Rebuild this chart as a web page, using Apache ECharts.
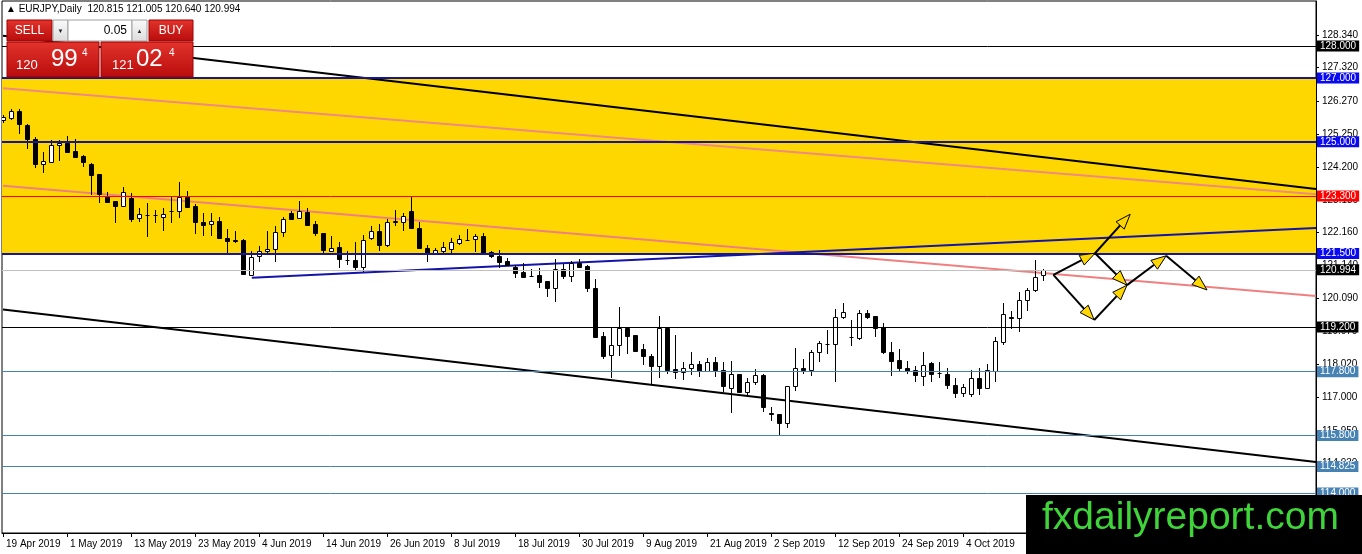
<!DOCTYPE html>
<html>
<head>
<meta charset="utf-8">
<title>EURJPY Daily</title>
<script src="https://cdn.jsdelivr.net/npm/echarts@6.0.0/dist/echarts.min.js"></script>
<style>
    html, body { margin: 0; padding: 0; background: #fff; }
    #chart { width: 1362px; height: 554px; }
</style>
</head>
<body>
<div id="chart"></div>
<script>
// daily candles, index 0 = 19 Apr 2019, one slot per weekday
var opens  = [125.68,125.75,125.96,125.53,125.08,124.30,124.38,124.90,124.97,124.71,124.56,124.30,123.98,123.31,123.15,123.00,123.25,122.60,122.71,122.70,
              122.66,122.83,122.83,123.28,123.00,122.50,122.42,122.52,122.00,121.91,121.92,120.83,121.42,121.58,121.64,122.19,122.76,122.60,122.79,122.42,
              122.13,121.58,121.71,121.31,121.30,121.09,121.98,122.22,121.77,122.50,122.50,122.84,122.29,121.66,121.53,121.59,121.63,121.84,121.93,121.95,
              122.05,121.56,121.42,121.28,121.09,120.93,120.81,120.83,120.64,120.43,121.02,120.81,121.19,121.12,120.41,118.93,118.32,118.64,119.16,118.95,
              118.51,118.30,117.99,119.18,117.88,117.80,117.91,118.03,117.82,118.09,117.85,117.30,117.72,117.17,117.47,117.70,116.50,116.47,116.18,117.35,
              117.93,117.85,118.41,118.67,118.66,119.52,118.90,118.85,119.63,119.55,119.21,118.43,118.17,117.91,117.85,117.67,118.06,117.76,117.73,117.38,
              117.12,117.10,117.60,117.28,117.82,118.74,119.50,119.47,120.05,120.36,120.815];
var highs  = [125.85,126.03,126.03,125.55,125.16,124.67,125.06,125.06,125.18,125.08,124.59,124.33,123.98,123.44,123.15,123.59,123.39,122.94,123.07,122.87,
              122.94,123.28,123.73,123.46,123.04,122.76,122.76,122.65,122.27,122.21,121.95,121.58,121.74,122.21,122.36,122.65,122.83,123.15,122.94,122.52,
              122.13,122.06,121.87,121.58,121.87,122.08,122.36,122.43,122.57,122.86,122.78,123.30,122.50,121.77,121.66,121.87,121.98,122.08,122.26,122.11,
              122.15,121.59,121.61,121.37,121.14,121.21,121.02,121.04,120.64,121.33,121.16,121.26,121.33,121.14,120.70,119.03,119.16,119.84,119.21,118.95,
              118.66,118.34,119.55,119.21,118.95,118.09,118.41,118.13,118.24,118.27,118.11,118.13,117.72,117.59,117.88,117.72,116.70,116.47,117.35,118.55,
              118.20,118.47,118.75,119.11,119.76,119.94,119.42,119.73,119.73,119.55,119.31,118.72,118.51,118.13,117.99,118.41,118.11,118.09,117.93,117.59,
              117.41,117.85,117.93,118.03,118.90,119.94,119.70,120.29,120.43,121.30,121.005];
var lows   = [125.60,125.68,125.23,124.76,124.17,124.03,124.38,124.40,124.67,124.52,124.22,123.33,123.07,123.07,122.45,122.97,122.50,122.50,122.03,122.47,
              122.21,122.47,122.62,122.92,122.10,122.06,122.06,121.98,121.51,121.82,120.85,120.83,121.25,121.51,121.22,122.03,122.58,122.58,122.39,122.06,
              121.51,121.54,121.04,121.14,121.00,120.93,121.92,121.59,121.70,122.36,122.22,122.29,121.66,121.25,121.53,121.51,121.51,121.77,121.90,121.56,
              121.51,121.35,121.04,121.10,120.72,120.75,120.75,120.43,120.15,119.99,120.70,120.62,121.09,120.29,118.90,118.20,117.61,118.30,118.34,118.43,
              118.01,117.40,117.61,117.72,117.57,117.54,117.70,117.63,117.78,117.64,117.15,116.50,117.12,117.07,117.38,116.55,116.26,115.80,116.05,117.19,
              117.72,117.65,118.09,118.34,117.49,119.45,118.61,118.80,119.45,118.90,118.34,117.67,117.80,117.72,117.47,117.36,117.47,117.61,117.25,116.99,
              117.02,117.02,117.07,117.25,117.49,118.64,119.14,119.05,119.70,120.29,120.640];
var closes = [125.77,125.96,125.55,125.08,124.30,124.40,124.90,124.97,124.67,124.52,124.38,123.96,123.36,123.12,123.00,123.42,122.58,122.73,122.70,122.71,
              122.74,122.84,123.28,122.97,122.48,122.39,122.52,121.98,121.90,121.90,120.85,121.40,121.58,121.64,122.17,122.58,122.58,122.83,122.39,122.13,
              121.61,121.68,121.33,121.30,121.09,121.92,122.22,121.77,122.50,122.51,122.68,122.29,121.66,121.53,121.61,121.71,121.87,121.95,121.92,122.05,
              121.53,121.42,121.25,121.14,120.90,120.78,120.80,120.62,120.43,121.02,120.81,121.19,121.09,120.41,118.90,118.30,118.64,119.16,118.93,118.45,
              118.30,117.99,119.16,117.85,117.80,117.91,118.03,117.82,118.09,117.85,117.36,117.72,117.16,117.47,117.70,116.70,116.49,116.18,117.35,117.91,
              117.85,118.41,118.69,118.66,119.52,119.66,118.89,119.63,119.52,119.16,118.43,118.14,117.91,117.82,117.70,118.01,117.72,117.75,117.38,117.12,
              117.33,117.60,117.30,117.85,118.76,119.60,119.49,120.05,120.36,120.77,120.994];

// date ticks, one every 8 slots
var dateLabels = ['19 Apr 2019','1 May 2019','13 May 2019','23 May 2019','4 Jun 2019','14 Jun 2019','26 Jun 2019','8 Jul 2019',
                  '18 Jul 2019','30 Jul 2019','9 Aug 2019','21 Aug 2019','2 Sep 2019','12 Sep 2019','24 Sep 2019','4 Oct 2019'];
var priceTicks = [128.34,127.32,126.27,125.25,124.20,123.18,122.16,121.14,120.09,119.07,118.02,117.00,115.95,114.93,113.91];

// horizontal levels drawn on the chart
var levels     = [128, 127, 125, 123.3, 121.5, 120.994, 119.2, 117.8, 115.8, 114.825, 114];
var levelKinds = ['black','blue','blue','red','blue','bid','black','steel','steel','steel','steel'];
var zoneTop = 127, zoneBottom = 121.5;

// trend lines [slot, price]
var channelTop    = [[0, 128.32], [164.125, 123.52]];
var channelBottom = [[0, 119.75], [164.125, 114.97]];
var pinkUpper     = [[0, 126.68], [164.125, 123.36]];
var pinkLower     = [[0, 123.62], [164.125, 120.17]];
var blueSupport   = [[31.1, 120.74], [164.125, 122.30]];

// scenario arrows [fromSlot, fromPrice, toSlot, toPrice]
var arrows = [
    [131.3, 120.83, 136.5, 121.51],
    [136.5, 121.51, 140.9, 122.73],
    [136.5, 121.51, 140.5, 120.51],
    [140.5, 120.51, 145.4, 121.43],
    [145.4, 121.43, 150.5, 120.36],
    [131.3, 120.83, 136.4, 119.42],
    [136.4, 119.42, 140.5, 120.51]
];

var FONT = '"Liberation Sans", "DejaVu Sans", sans-serif';

var dom = document.getElementById('chart');
var myChart = echarts.init(dom, null, {renderer: 'canvas'});

var kindStyle = {
    black: {line: '#000000', width: 1, box: '#000000'},
    blue:  {line: '#16169a', width: 2, box: '#0a0af0'},
    red:   {line: '#ff0000', width: 1, box: '#ff0000'},
    bid:   {line: '#c0c0c0', width: 1, box: '#000000'},
    steel: {line: '#4682b4', width: 1, box: '#4682b4'}
};

var levelData = levels.map(function (v, i) {
    var s = kindStyle[levelKinds[i]];
    return {
        name: v.toFixed(3),
        yAxis: v,
        lineStyle: {color: s.line, width: s.width, type: 'solid'},
        label: {backgroundColor: s.box}
    };
});

var candleData = opens.map(function (o, i) {
    return [i, o, closes[i], lows[i], highs[i]];
});

var tickSlots = dateLabels.map(function (d, i) { return i * 8; });

function renderCandle(params, api) {
    var i = api.value(0), o = api.value(1), c = api.value(2), l = api.value(3), h = api.value(4);
    var pO = api.coord([i, o]), pC = api.coord([i, c]);
    var pL = api.coord([i, l]), pH = api.coord([i, h]);
    var cx = Math.round(pO[0]) + 0.5;
    var half = Math.round(api.size([1, 0])[0] * 0.3);
    var yTop = Math.round(Math.min(pO[1], pC[1]));
    var yBot = Math.round(Math.max(pO[1], pC[1]));
    var kids = [{
        type: 'line',
        shape: {x1: cx, y1: Math.round(pH[1]), x2: cx, y2: Math.round(pL[1])},
        style: {stroke: '#000', lineWidth: 1}
    }];
    if (yBot - yTop < 1) {
        kids.push({type: 'line', shape: {x1: cx - half, y1: yTop + 0.5, x2: cx + half, y2: yTop + 0.5},
            style: {stroke: '#000', lineWidth: 1}});
    } else {
        kids.push({type: 'rect', shape: {x: cx - half, y: yTop + 0.5, width: half * 2, height: yBot - yTop},
            style: {fill: c >= o ? '#fff' : '#000', stroke: '#000', lineWidth: 1}});
    }
    return {type: 'group', children: kids};
}

function renderArrow(params, api) {
    var p1 = api.coord([api.value(0), api.value(1)]);
    var p2 = api.coord([api.value(2), api.value(3)]);
    var dx = p2[0] - p1[0], dy = p2[1] - p1[1];
    var len = Math.sqrt(dx * dx + dy * dy);
    var ux = dx / len, uy = dy / len;
    var hl = 15, hw = 5.5;
    var bx = p2[0] - ux * hl, by = p2[1] - uy * hl;
    return {
        type: 'group',
        children: [
            {type: 'line', shape: {x1: p1[0], y1: p1[1], x2: bx, y2: by}, style: {stroke: '#000', lineWidth: 2}},
            {type: 'polygon', shape: {points: [[p2[0], p2[1]], [bx - uy * hw, by + ux * hw], [bx + uy * hw, by - ux * hw]]},
                style: {fill: '#ffd700', stroke: '#000', lineWidth: 1}}
        ]
    };
}

function trend(data, color, width) {
    return {
        type: 'line', data: data, symbol: 'none', silent: true, z: 3,
        lineStyle: {color: color, width: width}
    };
}

var redFill = {type: 'linear', x: 0, y: 0, x2: 0, y2: 1,
    colorStops: [{offset: 0, color: '#e3342c'}, {offset: 1, color: '#b80c0c'}]};
var greyFill = {type: 'linear', x: 0, y: 0, x2: 0, y2: 1,
    colorStops: [{offset: 0, color: '#fafafa'}, {offset: 1, color: '#dcdcdc'}]};

function txt(text, x, y, size, color, align) {
    return {type: 'text', z: 101, style: {text: text, x: x, y: y, font: size + 'px ' + FONT,
        fill: color, align: align || 'left', verticalAlign: 'middle'}};
}

var option = {
    animation: false,
    backgroundColor: '#fff',
    grid: {left: 2, right: 46, top: 1, bottom: 21, show: true, borderColor: '#000', borderWidth: 1, backgroundColor: '#fff'},
    xAxis: {
        type: 'value', min: -0.125, max: 164.125,
        splitLine: {show: false},
        axisLine: {onZero: false, lineStyle: {color: '#000'}},
        axisTick: {customValues: tickSlots, length: 4, lineStyle: {color: '#000'}},
        axisLabel: {
            customValues: tickSlots, align: 'left', margin: 6, padding: [0, 0, 0, 3],
            color: '#000', fontSize: 10, fontFamily: FONT,
            formatter: function (v) { return dateLabels[Math.round(v / 8)] || ''; }
        }
    },
    yAxis: {
        type: 'value', position: 'right', min: 112.748, max: 129.409,
        splitLine: {show: false},
        axisLine: {show: true, onZero: false, lineStyle: {color: '#000'}},
        axisTick: {show: true, customValues: priceTicks, length: 3, lineStyle: {color: '#000'}},
        axisLabel: {
            customValues: priceTicks, margin: 6, color: '#000', fontSize: 10, fontFamily: FONT,
            formatter: function (v) { return v.toFixed(3); }
        }
    },
    series: [
        {
            type: 'line', data: [], silent: true, z: 1,
            markArea: {
                silent: true,
                itemStyle: {color: '#ffd700', opacity: 1},
                data: [[{yAxis: zoneTop}, {yAxis: zoneBottom}]]
            }
        },
        {
            type: 'line', data: [], silent: true, z: 2,
            markLine: {
                silent: true, symbol: ['none', 'none'],
                label: {
                    show: true, position: 'end', distance: 1, color: '#fff',
                    fontSize: 10, fontFamily: FONT, padding: [1, 3, 0, 3],
                    formatter: '{b}'
                },
                emphasis: {disabled: true},
                data: levelData
            }
        },
        trend(channelTop, '#000000', 2),
        trend(channelBottom, '#000000', 2),
        trend(pinkUpper, '#f08a80', 2),
        trend(pinkLower, '#f08080', 2),
        trend(blueSupport, '#1414a8', 2),
        {
            type: 'custom', renderItem: renderCandle, data: candleData, clip: true, z: 4, silent: true,
            encode: {x: 0, y: [1, 2, 3, 4]}
        },
        {
            type: 'custom', renderItem: renderArrow, data: arrows, clip: true, z: 5, silent: true,
            encode: {x: [0, 2], y: [1, 3]}
        }
    ],
    graphic: [
        txt('\u25B2 EURJPY,Daily  120.815 121.005 120.640 120.994', 6, 9, 10, '#000'),
        // one click trading panel
        {type: 'rect', z: 100, shape: {x: 7, y: 20, width: 45, height: 21}, style: {fill: redFill, stroke: '#a00000'}},
        txt('SELL', 29.5, 31, 12, '#fff', 'center'),
        {type: 'rect', z: 100, shape: {x: 53, y: 20, width: 15, height: 21}, style: {fill: greyFill, stroke: '#a0a0a0'}},
        txt('\u25BC', 60.5, 31, 6, '#222', 'center'),
        {type: 'rect', z: 100, shape: {x: 68, y: 20, width: 64, height: 21}, style: {fill: '#fff', stroke: '#a0a0a0'}},
        txt('0.05', 127, 31, 12, '#000', 'right'),
        {type: 'rect', z: 100, shape: {x: 132, y: 20, width: 15, height: 21}, style: {fill: greyFill, stroke: '#a0a0a0'}},
        txt('\u25B2', 139.5, 31, 6, '#222', 'center'),
        {type: 'rect', z: 100, shape: {x: 149, y: 20, width: 44, height: 21}, style: {fill: redFill, stroke: '#a00000'}},
        txt('BUY', 171, 31, 12, '#fff', 'center'),
        {type: 'rect', z: 100, shape: {x: 7, y: 42, width: 92, height: 35}, style: {fill: redFill, stroke: '#a00000'}},
        {type: 'rect', z: 100, shape: {x: 101, y: 42, width: 92, height: 35}, style: {fill: redFill, stroke: '#a00000'}},
        txt('120', 16, 65, 13, '#fff'),
        txt('99', 51, 59, 24, '#fff'),
        txt('4', 82, 53, 10, '#fff'),
        txt('121', 112, 65, 13, '#fff'),
        txt('02', 136, 59, 24, '#fff'),
        txt('4', 169, 53, 10, '#fff'),
        // site banner
        {type: 'rect', z: 110, shape: {x: 1026, y: 495, width: 336, height: 59}, style: {fill: '#000'}},
        {type: 'text', z: 111, style: {text: 'fxdailyreport.com', x: 1042, y: 518, font: '39px ' + FONT,
            fill: '#3fd43a', verticalAlign: 'middle'}}
    ]
};

if (option && typeof option === 'object') {
    myChart.setOption(option, true);
}
</script>
</body>
</html>
